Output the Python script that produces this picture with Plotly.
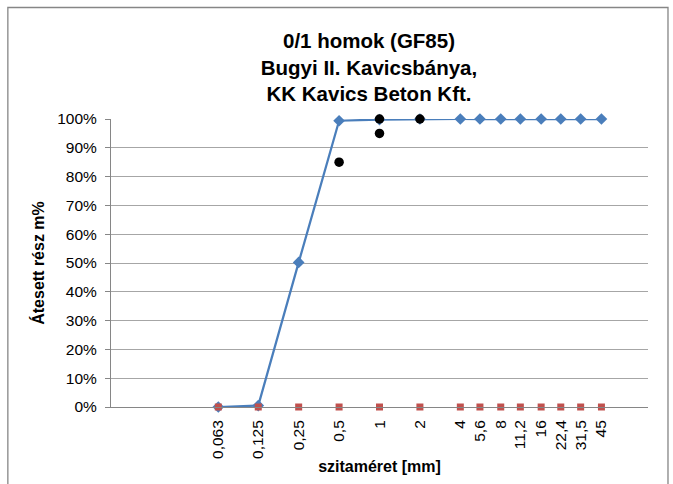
import plotly.graph_objects as go

sieves = [0.063, 0.125, 0.25, 0.5, 1, 2, 4, 5.6, 8, 11.2, 16, 22.4, 31.5, 45]
tick_labels = ["0,063", "0,125", "0,25", "0,5", "1", "2", "4", "5,6", "8", "11,2", "16", "22,4", "31,5", "45"]
passing = [0.0, 0.005, 0.502, 0.994, 0.998, 1.0, 1.0, 1.0, 1.0, 1.0, 1.0, 1.0, 1.0, 1.0]
lower = [0.0] * 14
limit_x = [0.5, 1, 1, 2]
limit_y = [0.85, 0.95, 1.0, 1.0]

W, H = 673, 484
L, R, T, B = 110.7, 648, 119, 407
FONT = "Liberation Sans, Arial, sans-serif"

fig = go.Figure()
fig.add_trace(go.Scatter(x=sieves, y=passing, mode="lines+markers",
                         line=dict(color="#4A7EBB", width=2.25),
                         marker=dict(symbol="diamond", size=9, color="#4A7EBB"),
                         showlegend=False, cliponaxis=False))
fig.add_trace(go.Scatter(x=sieves, y=lower, mode="markers",
                         marker=dict(symbol="square", size=7, color="#C0504D"),
                         showlegend=False, cliponaxis=False))
fig.add_trace(go.Scatter(x=limit_x, y=limit_y, mode="markers",
                         marker=dict(symbol="circle", size=9.5, color="#000000"),
                         showlegend=False, cliponaxis=False))

def px(xp):
    return (xp - L) / (R - L)

def py(yp):
    return (B - yp) / (B - T)

fig.add_shape(type="rect", xref="paper", yref="paper",
              x0=px(7.5), x1=px(668), y0=py(495), y1=py(7.5),
              line=dict(color="#868686", width=1.3), layer="below")

fig.update_layout(
    width=W, height=H,
    margin=dict(l=L, r=W - R, t=T, b=H - B, autoexpand=False),
    paper_bgcolor="white", plot_bgcolor="white",
    font=dict(family=FONT, size=15.5, color="black"),
    title=dict(text="0/1 homok (GF85)<br>Bugyi II. Kavicsbánya,<br>KK Kavics Beton Kft.",
               x=369 / W, xanchor="center", y=1 - 48 / H, yanchor="middle",
               yref="container",
               font=dict(size=20.5, family=FONT, weight="bold")),
    xaxis=dict(type="log", range=[-2, 2], tickvals=sieves, ticktext=tick_labels,
               tickangle=-90, showgrid=False, showline=True, linecolor="#868686",
               linewidth=1, ticks="", zeroline=False, ticklabelstandoff=6,
               title=dict(text="<b>szitaméret [mm]</b>", font=dict(size=16), standoff=2)),
    yaxis=dict(range=[0, 1], tickvals=[i / 10 for i in range(11)],
               tickformat=".0%", showgrid=True, gridcolor="#A6A6A6", gridwidth=1,
               showline=True, linecolor="#868686", linewidth=1,
               ticks="outside", ticklen=5, tickcolor="#868686", zeroline=False,
               ticklabelstandoff=5,
               title=dict(text="<b>Átesett rész m%</b>", font=dict(size=16), standoff=8)),
)

fig.write_html("out.html", config={"displayModeBar": False},
               post_script="document.body.style.margin='0';document.body.style.padding='0';")
